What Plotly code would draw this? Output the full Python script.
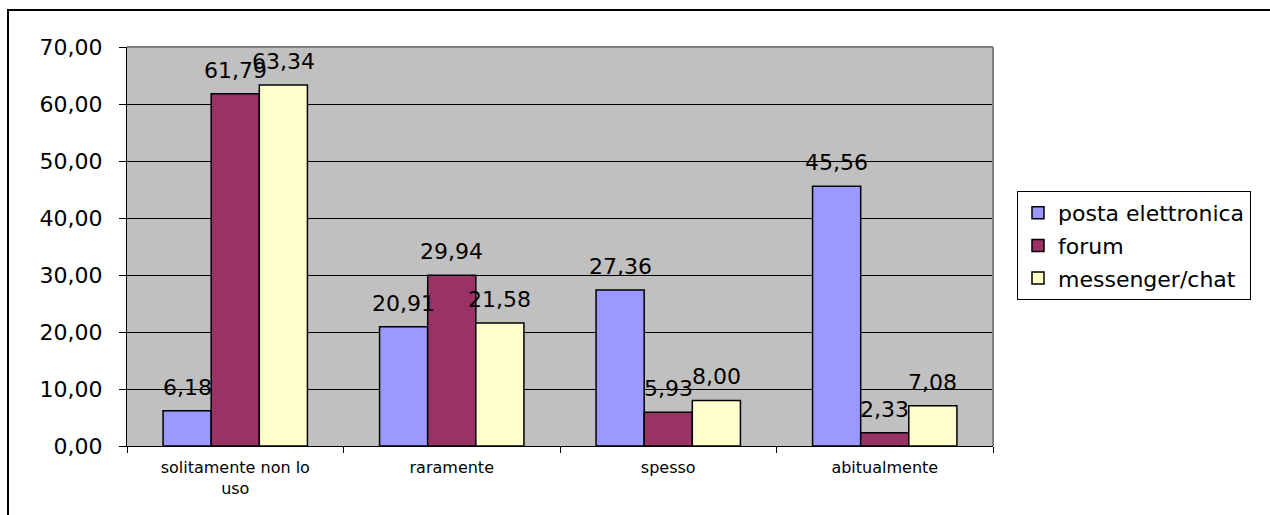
import plotly.graph_objects as go

# Survey answers: how often each tool is used (percent of respondents)
categories = ["solitamente non lo<br>uso", "raramente", "spesso", "abitualmente"]
series_names = ["posta elettronica", "forum", "messenger/chat"]
posta_elettronica = [6.18, 20.91, 27.36, 45.56]
forum = [61.79, 29.94, 5.93, 2.33]
messenger_chat = [63.34, 21.58, 8.00, 7.08]
y_ticks = [0, 10, 20, 30, 40, 50, 60, 70]

series_values = [posta_elettronica, forum, messenger_chat]
colors = ["#9999FF", "#993366", "#FFFFCC"]

W, H = 1270, 515
M_L, M_R, M_T, M_B = 127, 277, 47, 69
BARGAP = 1.5 / 4.5
FONT = "DejaVu Sans"

fig = go.Figure()
for i, (name, vals) in enumerate(zip(series_names, series_values)):
    fig.add_trace(go.Bar(
        x=categories, y=vals, name=name,
        marker=dict(color=colors[i], line=dict(color="#000000", width=1.5)),
        legendgroup=name,
    ))

# value labels above each bar, shifted to the bar's slot inside its group
plot_w = W - M_L - M_R
bar_px = plot_w / len(categories) * (1 - BARGAP) / len(series_names)
annotations = []
for i, vals in enumerate(series_values):
    shift = (i - (len(series_names) - 1) / 2) * bar_px
    for cat, v in zip(categories, vals):
        annotations.append(dict(
            x=cat, y=v, xref="x", yref="y",
            text=f"{v:.2f}".replace(".", ","),
            showarrow=False, xanchor="center", yanchor="bottom",
            xshift=shift, yshift=9,
            font=dict(family=FONT, size=22, color="#000000"),
        ))

shapes = [
    # outer chart frame
    dict(type="rect", xref="paper", yref="paper",
         x0=(8 - M_L) / plot_w, x1=1.6,
         y0=-0.5, y1=(H - M_B - 10) / (H - M_T - M_B),
         line=dict(color="#000000", width=2), fillcolor="rgba(0,0,0,0)",
         layer="above"),
    # plot-area border on top and right
    dict(type="line", xref="paper", yref="paper", x0=0, x1=1, y0=1, y1=1,
         line=dict(color="#808080", width=2)),
    dict(type="line", xref="paper", yref="paper", x0=1, x1=1, y0=0, y1=1,
         line=dict(color="#808080", width=2)),
]

fig.update_layout(
    width=W, height=H,
    margin=dict(l=M_L, r=M_R, t=M_T, b=M_B, pad=0),
    paper_bgcolor="#FFFFFF", plot_bgcolor="#C0C0C0",
    barmode="group", bargap=BARGAP, bargroupgap=0,
    separators=",.",
    font=dict(family=FONT, color="#000000"),
    annotations=annotations, shapes=shapes,
    legend=dict(
        x=(1017 - M_L) / plot_w, y=(H - M_B - 191) / (H - M_T - M_B),
        xanchor="left", yanchor="top",
        bgcolor="#FFFFFF", bordercolor="#000000", borderwidth=1,
        font=dict(family=FONT, size=22, color="#000000"),
        traceorder="grouped", tracegroupgap=1,
    ),
    xaxis=dict(
        type="category", tickson="boundaries", ticks="outside", ticklen=6,
        tickcolor="#000000", showline=True, linecolor="#000000", linewidth=1,
        showgrid=False, tickfont=dict(family=FONT, size=16, color="#000000"),
        ticklabelstandoff=7,
    ),
    yaxis=dict(
        range=[0, 70], tickvals=y_ticks, tickformat=".2f",
        ticks="outside", ticklen=7, tickcolor="#000000",
        showline=True, linecolor="#000000", linewidth=1,
        showgrid=True, gridcolor="#000000", gridwidth=1,
        zeroline=False, tickfont=dict(family=FONT, size=22, color="#000000"),
        ticklabelstandoff=12,
    ),
)

fig.write_html("out.html")
